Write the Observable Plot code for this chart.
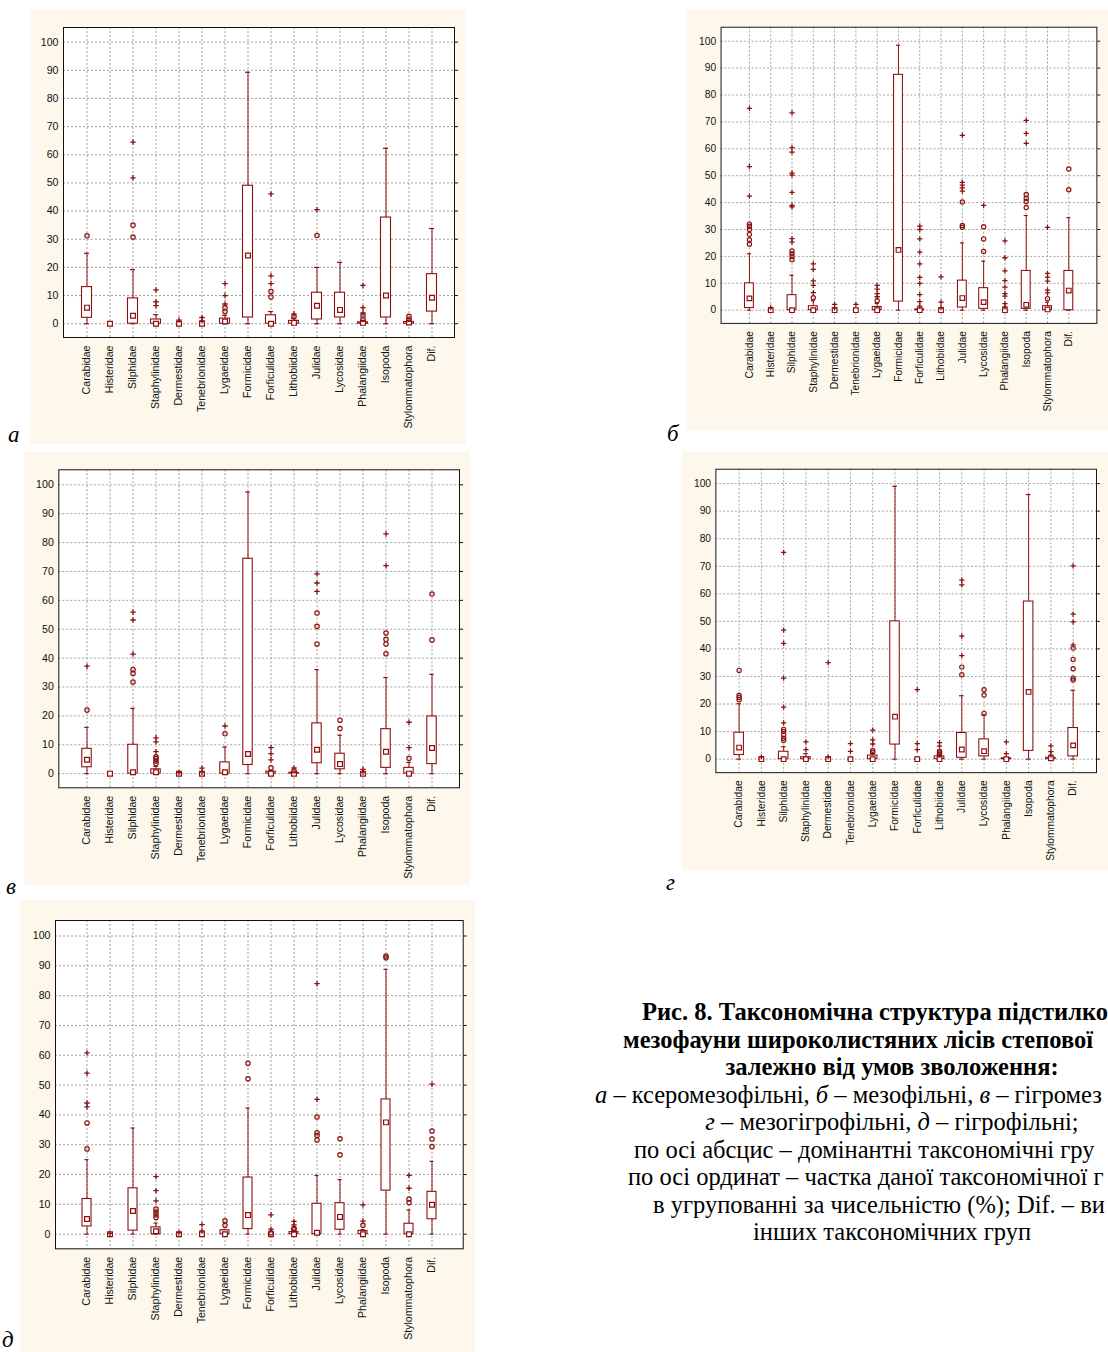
<!DOCTYPE html>
<html>
<head>
<meta charset="utf-8">
<script src="https://cdn.jsdelivr.net/npm/d3@7"></script>
<script src="https://cdn.jsdelivr.net/npm/@observablehq/plot@0.6"></script>
<style>
  html, body { margin: 0; padding: 0; background: #fff; }
  body { position: relative; width: 1108px; height: 1352px; overflow: hidden; }
  .panel { position: absolute; }
  .tag { position: absolute; font-family: "Liberation Serif", serif; font-style: italic; font-size: 23px; line-height: 23px; color: #000; }
  .cap { position: absolute; font-family: "Liberation Serif", serif; color: #000; white-space: nowrap;
         font-size: 24.5px; line-height: 27.5px; height: 27.5px; }
  .cap.b { font-weight: bold; }
  .cap.c { transform: translateX(-50%); }
</style>
</head>
<body>
<div id="pa" class="panel"></div>
<div id="pb" class="panel"></div>
<div id="pv" class="panel"></div>
<div id="pg" class="panel"></div>
<div id="pd" class="panel"></div>

<div class="tag" style="left:8px; top:423px;">а</div>
<div class="tag" style="left:667px; top:422px;">б</div>
<div class="tag" style="left:6px; top:875px;">в</div>
<div class="tag" style="left:666px; top:871px;">г</div>
<div class="tag" style="left:2px; top:1328px;">д</div>

<div class="cap b" style="left:642px; top:998px">Рис. 8. Таксономічна структура підстилко</div>
<div class="cap b" style="left:623px; top:1025.5px">мезофауни широколистяних лісів степової</div>
<div class="cap b c" style="left:892px; top:1053px">залежно від умов зволоження:</div>
<div class="cap" style="left:595px; top:1080.5px"><i>а</i> – ксеромезофільні, <i>б</i> – мезофільні, <i>в</i> – гігромез</div>
<div class="cap c" style="left:892px; top:1108px"><i>г</i> – мезогігрофільні, <i>д</i> – гігрофільні;</div>
<div class="cap" style="left:634px; top:1135.5px">по осі абсцис – домінантні таксономічні гру</div>
<div class="cap" style="left:628px; top:1163px">по осі ординат – частка даної таксономічної г</div>
<div class="cap" style="left:653px; top:1190.5px">в угрупованні за чисельністю (%); Dif. – ви</div>
<div class="cap c" style="left:892px; top:1218px">інших таксономічних груп</div>

<script>
// Dominant taxonomic groups (x axis)
const families = ["Carabidae", "Histeridae", "Silphidae", "Staphylinidae", "Dermestidae",
  "Tenebrionidae", "Lygaeidae", "Formicidae", "Forficulidae", "Lithobiidae", "Julidae",
  "Lycosidae", "Phalangiidae", "Isopoda", "Stylommatophora", "Dif."];

// Y axis ticks, share in the community (%)
const yTicks = [0, 10, 20, 30, 40, 50, 60, 70, 80, 90, 100];

// а – xeromesophilous
const a_min    = [0, 0, 0, 0, 0, 0, 0, 0, 0, 0, 0, 0, 0, 0, 0, 0];
const a_q1     = [2.1, 0, 0, 0, 0, 0, 0, 2.2, 0, 0, 1.5, 2.2, 0, 2.2, 0, 4.3];
const a_median = [5.7, 0, 2.8, 0, 0, 0, 0.8, 24.2, 0, 0.3, 6.4, 4.9, 0.3, 10, 0.4, 9.2];
const a_q3     = [13, 0, 9, 1.5, 0, 0, 1.8, 49, 3, 1, 11, 11, 0.5, 37.7, 0.6, 17.6];
const a_max    = [25, 0, 19.2, 3.2, 0, 0, 3, 89.3, 4.3, 2, 20, 21.8, 1, 62.3, 1, 33.8];
const a_outliers = [[31.2], [], [30.8, 35], [], [], [], [4.3, 5.7], [], [9.5, 11.4], [2.5],
  [31.3], [], [1.6, 2.8], [], [1.6, 2.6], []];
const a_extremes = [[], [], [51.8, 64.5], [6.4, 7.8, 12], [1.3], [1, 2.2], [7, 10, 14.2], [],
  [14.2, 17, 46.1], [3.5], [40.5], [], [3.8, 5.7, 13.6], [], [], []];

// б – mesophilous
const b_min    = [0, 0, 0, 0, 0, 0, 0, 0, 0, 0, 0, 0, 0, 0, 0, 0];
const b_q1     = [0.8, 0, 0, 0, 0, 0, 0, 3.2, 0, 0, 1, 0.5, 0, 0.5, 0, 0];
const b_median = [4.4, 0, 0, 0, 0, 0, 0, 22.4, 0, 0, 4.5, 3, 0, 2, 0.3, 7.3];
const b_q3     = [10, 0, 5.6, 1.5, 0, 0, 1.2, 87.5, 0.3, 0, 11, 8.2, 0, 14.6, 1.5, 14.6];
const b_max    = [21, 0, 13, 3.5, 0, 0, 2.5, 98.5, 0.5, 0, 25, 18.2, 0, 35.2, 3, 34.4];
const b_outliers = [[24.5, 26.2, 28.2, 30, 31.2, 32], [], [18.8, 20, 21, 22], [4.6], [], [], [3.5], [],
  [], [], [30.8, 31.5, 40.2], [21.8, 26.5, 31], [], [38.2, 40.4, 41.6, 43], [4.3], [44.8, 52.5]];
const b_extremes = [[42.4, 53.4, 75], [1], [25.3, 26.6, 38.4, 39, 43.8, 50.2, 51, 58.8, 60.4, 73.4],
  [6.5, 9.2, 10.9, 15.2, 17.2], [0.9, 2.2], [2.2], [5, 6.2, 7.8, 9.2], [],
  [1.5, 3.2, 5.8, 10, 12.2, 17.2, 21.6, 26.5, 30, 31.3], [1, 3, 12.4], [44.3, 45.5, 46.5, 47.5, 65],
  [39], [1.2, 2.4, 5.2, 6.2, 8.6, 11, 14.6, 19.5, 25.8], [62, 65.7, 70.6],
  [6.4, 7.5, 10.8, 12.3, 13.7, 30.8], []];

// в – hygromesophilous
const v_min    = [0, 0, 0, 0, 0, 0, 0, 0, 0, 0, 0, 0, 0, 0, 0, 0];
const v_q1     = [2.2, 0, 0, 0, 0, 0, 0, 3, 0, 0, 3.6, 1.5, 0, 2, 0, 3.3];
const v_median = [4.8, 0, 0.5, 0.5, 0, 0, 0.5, 6.8, 0, 0, 8.3, 3.3, 0, 7.6, 0, 8.9];
const v_q3     = [8.6, 0, 10, 1.5, 0, 0, 3.9, 74.4, 0.7, 0.3, 17.4, 6.9, 0, 15.4, 2, 19.8];
const v_max    = [16, 0, 22.6, 2.5, 0, 0, 9.2, 97.5, 1, 0.5, 36, 13.3, 0, 33.3, 3.9, 34.4];
const v_outliers = [[22], [], [31.7, 34.7, 36], [3.5, 4.3, 5.2, 5.8], [], [], [13.8], [], [2], [1],
  [44.9, 51, 55.6], [15.6, 18.5], [], [41.5, 44.9, 46.5, 48.7], [5.3], [46.3, 62.2]];
const v_extremes = [[37.2], [], [41.4, 53.2, 55.9], [7.6, 11, 12.4], [0.4], [0.5, 1.9], [16.5], [],
  [4.8, 6.9, 9], [2], [63.1, 66, 69.2], [], [0.5, 1.5], [72, 83], [9, 17.8], []];

// г – mesohygrophilous
const g_min    = [0, 0, 0, 0, 0, 0, 0, 0, 0, 0, 0, 0, 0, 0, 0, 0];
const g_q1     = [1.5, 0, 0, 0, 0, 0, 0, 5.3, 0, 0, 0.5, 1, 0, 3, 0, 1];
const g_median = [4.2, 0, 0, 0, 0, 0, 0, 15.4, 0, 0, 3.5, 2.9, 0, 24.4, 0.3, 5];
const g_q3     = [9.6, 0, 2.7, 0.7, 0, 0, 1.3, 50, 0, 1, 9.5, 7.2, 0.3, 57.2, 0.5, 11.3];
const g_max    = [20.1, 0, 4.5, 2, 0, 0, 2, 99, 0, 1.5, 23, 16, 0.5, 96, 0.8, 25];
const g_outliers = [[21.6, 22.4, 23.2, 32.2], [], [6.8, 7.6, 8.8, 10, 10.8], [], [], [], [2.5, 3.2], [],
  [], [1.8, 2.3, 2.9], [30.6, 33.4], [16.6, 23.3, 25.2], [], [], [], [28.7, 29.4, 32.8, 36.2, 40.3]];
const g_extremes = [[], [0.8], [13.2, 18.9, 29.4, 42, 46.8, 75], [3.5, 6.3], [0.8, 35], [2.8, 5.6],
  [5.5, 7, 10.5], [], [3.5, 5.6, 25.2], [4.7, 6], [37.6, 44.6, 63.2, 65], [], [2, 6.3], [],
  [1.5, 2.7, 4.8], [41.5, 49.8, 52.6, 70.1]];

// д – hygrophilous
const d_min    = [0, 0, 0, 0, 0, 0, 0, 0, 0, 0, 0, 0, 0, 0, 0, 0];
const d_q1     = [2.6, 0, 1.2, 0, 0, 0, 0, 1.7, 0, 0, 0, 1.5, 0, 14.6, 0, 5];
const d_median = [5.1, 0, 7.8, 1, 0, 0, 0, 6.4, 0, 0, 0.5, 5.8, 0, 37.5, 0, 9.9];
const d_q3     = [11.8, 0, 15.4, 2.3, 0, 0, 1.3, 19, 0, 0.7, 10.2, 10.4, 1.1, 45.2, 3.5, 14.2];
const d_max    = [25, 0, 35.6, 3.7, 0, 0, 1.5, 42.3, 0.5, 1, 19.7, 18.3, 1.5, 88.8, 8.1, 24.4];
const d_outliers = [[28.6, 37.3], [], [], [5.6, 6.5, 7.4, 8.4], [], [], [3, 4.5], [52.1, 57.3], [0.5],
  [1.5, 2], [31.6, 33.1, 34, 39.3], [26.6, 32], [3], [92.7, 93.3], [10.6, 11.8], [29.4, 31.9, 34.6]];
const d_extremes = [[42.7, 44, 54, 60.8], [0.3], [], [11.2, 14.6, 19.3], [0.5], [1.1, 3.2], [], [],
  [1.7, 6.5], [3.1, 4.3], [45.2, 84], [], [4.4, 9.8], [], [15.4, 19.7], [50.3]];

const RED = "#8b1010";
const CREAM = "#fdf8eb";

// Draws one box-and-whisker panel. `box` is the cream panel rectangle in page px,
// `frame` the plot-area rectangle in page px.
function drawPanel(id, box, frame, s) {
  const rows = families.map((f, i) => ({
    family: f, lo: s.min[i], q1: s.q1[i], med: s.median[i], q3: s.q3[i], hi: s.max[i]
  }));
  const circles = s.outliers.flatMap((vals, i) => vals.map(v => ({family: families[i], v})));
  const pluses = s.extremes.flatMap((vals, i) => vals.map(v => ({family: families[i], v})));
  const width = box.r - box.l, height = box.b - box.t;
  const step = (frame.r - frame.l) / 17;
  const boxInset = (step - 10) / 2;
  const capInset = (step - 5) / 2;

  const chart = Plot.plot({
    width, height,
    marginLeft: frame.l - box.l,
    marginRight: box.r - frame.r,
    marginTop: frame.t - box.t,
    marginBottom: box.b - frame.b,
    style: {background: CREAM, fontFamily: "'Liberation Sans', Arial, sans-serif", fontSize: "10.6px", color: "#111", overflow: "hidden"},
    x: {type: "band", domain: families, paddingInner: 0, paddingOuter: 0.5, align: 0.5, label: null},
    y: {domain: [-4.9, 105.2], label: null},
    marks: [
      Plot.frame({fill: "white", stroke: null}),
      Plot.gridY(yTicks, {stroke: "#a0a0a0", strokeOpacity: 1, strokeDasharray: "2,2"}),
      Plot.gridX({stroke: "#a0a0a0", strokeOpacity: 1, strokeDasharray: "2,2"}),
      Plot.axisY(yTicks, {tickSize: 0, tickPadding: 5, label: null}),
      Plot.axisY(yTicks, {anchor: "right", tickSize: 3, tickFormat: () => "", label: null}),
      Plot.axisX({tickRotate: -90, tickSize: 0, tickPadding: 8, label: null}),
      // whiskers
      Plot.ruleX(rows, {x: "family", y1: "lo", y2: "hi", stroke: RED, strokeWidth: 1}),
      Plot.tickY(rows, {x: "family", y: "hi", stroke: RED, strokeWidth: 1.2, insetLeft: capInset, insetRight: capInset}),
      Plot.tickY(rows, {x: "family", y: "lo", stroke: RED, strokeWidth: 1.2, insetLeft: capInset, insetRight: capInset}),
      // interquartile box
      Plot.rectY(rows, {x: "family", y1: "q1", y2: "q3", fill: "white", stroke: RED, strokeWidth: 1.1, insetLeft: boxInset, insetRight: boxInset}),
      // median
      Plot.dot(rows, {x: "family", y: "med", symbol: "square", r: 2.7, fill: "white", stroke: RED, strokeWidth: 1.2}),
      // outliers and extremes
      Plot.dot(circles, {x: "family", y: "v", r: 2.2, fill: "none", stroke: RED, strokeWidth: 1.2}),
      Plot.dot(pluses, {x: "family", y: "v", symbol: "plus", r: 1.9, stroke: RED, strokeWidth: 1.3}),
      Plot.frame({stroke: "#111", strokeWidth: 1})
    ]
  });
  const el = document.getElementById(id);
  el.style.left = box.l + "px";
  el.style.top = box.t + "px";
  el.appendChild(chart);
}

drawPanel("pa", {l: 30, t: 10, r: 466, b: 444}, {l: 63, t: 27, r: 454, b: 337},
  {min: a_min, q1: a_q1, median: a_median, q3: a_q3, max: a_max, outliers: a_outliers, extremes: a_extremes});
drawPanel("pb", {l: 687, t: 10, r: 1122, b: 444}, {l: 721.7, t: 27.3, r: 1110, b: 333.3},
  {min: b_min, q1: b_q1, median: b_median, q3: b_q3, max: b_max, outliers: b_outliers, extremes: b_extremes});
drawPanel("pv", {l: 24, t: 452, r: 470, b: 885}, {l: 58.3, t: 469.3, r: 459, b: 787.3},
  {min: v_min, q1: v_q1, median: v_median, q3: v_q3, max: v_max, outliers: v_outliers, extremes: v_extremes});
drawPanel("pg", {l: 682, t: 452, r: 1122, b: 885}, {l: 716.5, t: 469.3, r: 1109.6, b: 782.7},
  {min: g_min, q1: g_q1, median: g_median, q3: g_q3, max: g_max, outliers: g_outliers, extremes: g_extremes});
drawPanel("pd", {l: 20, t: 900, r: 475, b: 1352}, {l: 55, t: 920, r: 462.7, b: 1248.3},
  {min: d_min, q1: d_q1, median: d_median, q3: d_q3, max: d_max, outliers: d_outliers, extremes: d_extremes});
</script>
</body>
</html>
